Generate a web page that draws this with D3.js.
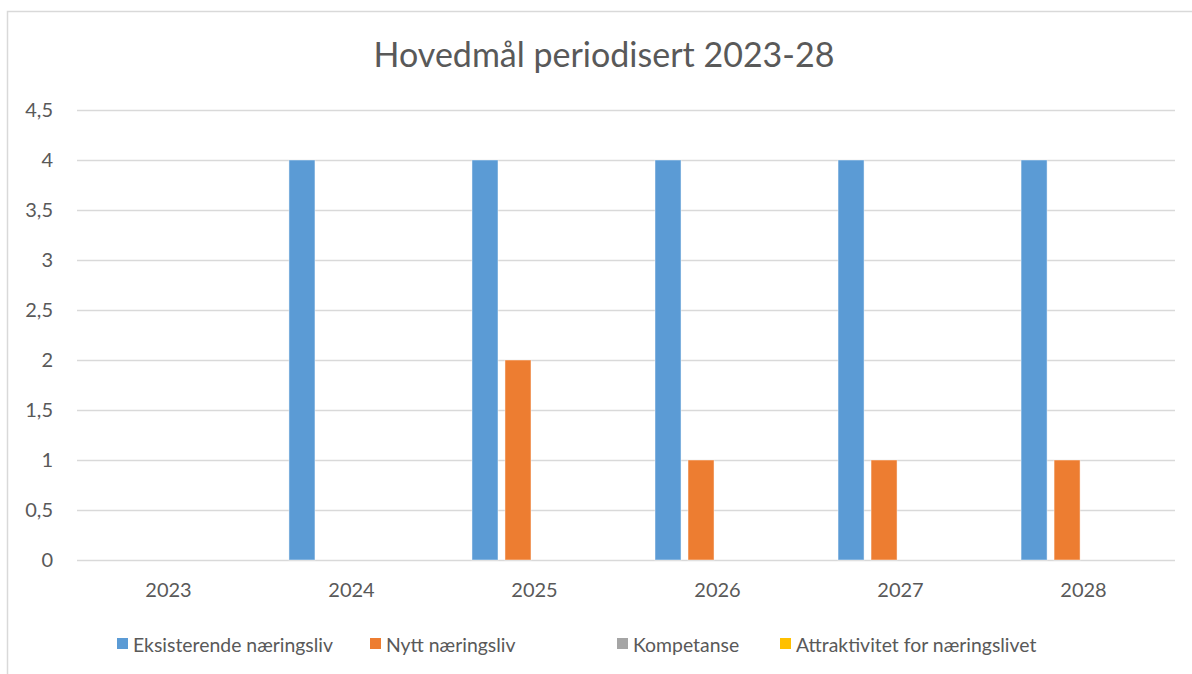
<!DOCTYPE html>
<html><head><meta charset="utf-8">
<script src="https://cdn.jsdelivr.net/npm/d3@7"></script>
<style>body{margin:0;background:#fff}svg{display:block}text{font-family:Lato,"Open Sans",sans-serif;fill:#595959}</style>
</head><body>
<svg id="c" width="1192" height="674"></svg>
<script>
const title = "Hovedmål periodisert 2023-28";
const categories = ["2023","2024","2025","2026","2027","2028"];
const seriesNames = ["Eksisterende næringsliv","Nytt næringsliv","Kompetanse","Attraktivitet for næringslivet"];
const seriesColors = ["#5B9BD5","#ED7D31","#A5A5A5","#FFC000"];
const eksisterende = [0,4,4,4,4,4];
const nytt = [0,0,2,1,1,1];
const kompetanse = [0,0,0,0,0,0];
const attraktivitet = [0,0,0,0,0,0];
const yTicks = [0,0.5,1,1.5,2,2.5,3,3.5,4,4.5];

const seriesValues = [eksisterende, nytt, kompetanse, attraktivitet];
const svg = d3.select("#c");
const m = {left:77, right:1175, top:110, bottom:560};

// chart border
svg.append("rect").attr("x",7.5).attr("y",11.5).attr("width",1200).attr("height",700)
  .attr("fill","#fff").attr("stroke","#D9D9D9").attr("stroke-width",1.5);

const x0 = d3.scaleBand().domain(categories).range([m.left,m.right]).paddingInner(0.317).paddingOuter(0.158);
const x1 = d3.scaleBand().domain(seriesNames).range([0,x0.bandwidth()]).paddingInner(0.212);
const y = d3.scaleLinear().domain([0,4.5]).range([m.bottom,m.top]);
const fmt = v => String(v).replace(".",",");

// gridlines + y axis
const yAxis = d3.axisLeft(y).tickValues(yTicks).tickSize(-(m.right-m.left)).tickFormat(fmt).tickPadding(24);
const gy = svg.append("g").attr("transform",`translate(${m.left},0)`).call(yAxis);
gy.select(".domain").remove();
gy.selectAll(".tick line").attr("stroke","#D9D9D9").attr("stroke-width",1.5);
gy.selectAll(".tick text").attr("font-size",20).attr("fill","#595959").attr("font-family","Lato");

// bars
const data = [];
categories.forEach((c,i)=>seriesNames.forEach((s,j)=>data.push({c,s,v:seriesValues[j][i],col:seriesColors[j]})));
svg.append("g").selectAll("rect").data(data).join("rect")
  .attr("x",d=>x0(d.c)+x1(d.s)).attr("width",x1.bandwidth())
  .attr("y",d=>y(d.v)).attr("height",d=>y(0)-y(d.v))
  .attr("fill",d=>d.col)
  .attr("stroke",d=>d.v>0?"rgba(255,255,255,0.45)":"none").attr("stroke-width",1);

// x axis
const xAxis = d3.axisBottom(d3.scaleBand().domain(categories).range([m.left,m.right])).tickSize(0).tickPadding(23);
const gx = svg.append("g").attr("transform",`translate(0,${m.bottom})`).call(xAxis);
gx.select(".domain").remove();
gx.selectAll(".tick text").attr("font-size",20).attr("fill","#595959").attr("font-family","Lato");

// title
svg.append("text").attr("x",604).attr("y",67).attr("text-anchor","middle")
  .attr("font-size",34).text(title);

// legend
const legendX = [117,370,617,780];
const lg = svg.append("g");
seriesNames.forEach((s,j)=>{
  lg.append("rect").attr("x",legendX[j]).attr("y",638).attr("width",11).attr("height",11).attr("fill",seriesColors[j]);
  lg.append("text").attr("x",legendX[j]+16).attr("y",652).attr("font-size",19.4).text(s);
});
</script>
</body></html>
